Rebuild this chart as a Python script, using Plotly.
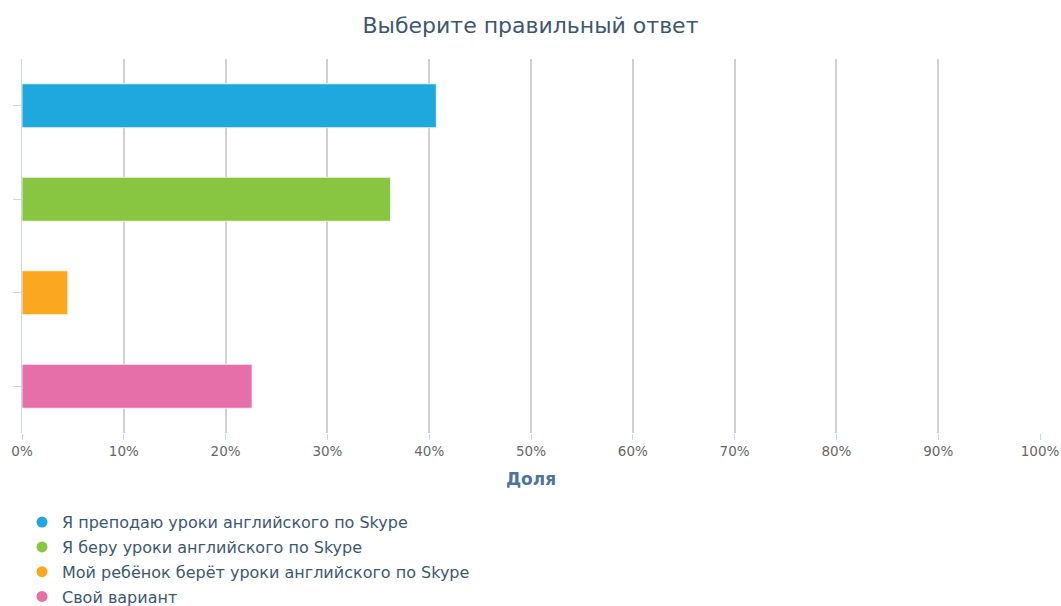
import plotly.graph_objects as go

categories = [
    "Я преподаю уроки английского по Skype",
    "Я беру уроки английского по Skype",
    "Мой ребёнок берёт уроки английского по Skype",
    "Свой вариант",
]
values = [40.7, 36.2, 4.5, 22.6]
colors = ["#1fa8de", "#88c540", "#fba71f", "#e66ea9"]
tick_vals = [0, 10, 20, 30, 40, 50, 60, 70, 80, 90, 100]
tick_text = [f"{v}%" for v in tick_vals]

FONT = "DejaVu Sans"
fig = go.Figure()
for i, (c, v, col) in enumerate(zip(categories, values, colors)):
    fig.add_trace(go.Bar(
        x=[v], y=[c], orientation="h", name=c,
        marker=dict(color=col, line=dict(color="rgba(255,255,255,0.8)", width=1)),
        width=0.47, showlegend=False,
    ))
for c, col in zip(categories, colors):
    fig.add_trace(go.Scatter(
        x=[None], y=[None], mode="markers", name=c,
        marker=dict(symbol="circle", size=11, color=col),
        legendgroup=c,
    ))

fig.update_layout(
    width=1061, height=606,
    margin=dict(l=22, r=21, t=59, b=173, autoexpand=False),
    paper_bgcolor="white", plot_bgcolor="white",
    title=dict(text="Выберите правильный ответ", x=0.5, xanchor="center",
               y=1 - 25/606, yanchor="middle",
               font=dict(family=FONT, size=22, color="#3e576f")),
    font=dict(family=FONT),
    showlegend=True,
    legend=dict(x=0, xanchor="left", y=-0.193, yanchor="top",
                font=dict(family=FONT, size=16, color="#3e576f"),
                tracegroupgap=1, itemclick=False),
    bargap=0.53,
)
fig.update_xaxes(
    range=[0, 100], tickvals=tick_vals, ticktext=tick_text,
    showgrid=True, gridcolor="#d0d0d0", gridwidth=1.5,
    zeroline=False, showline=False,
    ticks="outside", ticklen=6, tickcolor="#ccd6eb",
    tickfont=dict(family=FONT, size=13.5, color="#666666"),
    title=dict(text="<b>Доля</b>", font=dict(family=FONT, size=17, color="#4d759e"), standoff=14),
)
fig.update_yaxes(
    categoryorder="array", categoryarray=categories, autorange="reversed",
    showticklabels=False, showgrid=False,
    showline=True, linecolor="#ccd6eb", linewidth=1,
    ticks="outside", ticklen=8, tickcolor="#ccd6eb",
)
fig.write_html("out.html")
